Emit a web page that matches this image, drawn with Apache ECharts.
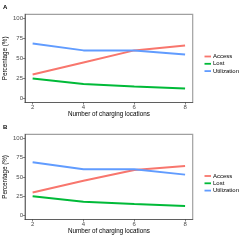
<!DOCTYPE html>
<html><head><meta charset="utf-8">
<script src="https://cdn.jsdelivr.net/npm/echarts@6/dist/echarts.min.js"></script>
<style>html,body{margin:0;padding:0;background:#fff}#c{width:240px;height:240px}</style>
</head><body><div id="c"></div>
<script>
const locations = [2, 4, 6, 8];
const accessA = [30, 45, 60, 66];
const lostA = [25, 18, 15, 12.5];
const utilA = [68.5, 60, 60, 55];
const accessB = [30, 45, 59, 64];
const lostB = [25, 18, 15, 12.5];
const utilB = [69, 60, 60, 53];
const yTicks = [0, 25, 50, 75, 100];
const seriesNames = ['Access', 'Lost', 'Utilization'];
const colors = ['#F8766D', '#00BA38', '#619CFF'];

const chart = echarts.init(document.getElementById('c'), null, {renderer: 'canvas'});
const pair = (ys) => locations.map((x, i) => [x, ys[i]]);
const grids = [
  {left: 25, right: 47.3, top: 14.3, bottom: 137.5, show: true, borderColor: '#a0a0a0', borderWidth: 1.2, containLabel: false, outerBoundsMode: 'none'},
  {left: 25, right: 47.3, top: 134.4, bottom: 20.5, show: true, borderColor: '#a0a0a0', borderWidth: 1.2, containLabel: false, outerBoundsMode: 'none'}
];
const mkX = (gi) => ({
  type: 'value', gridIndex: gi, min: 1.7, max: 8.3,
  name: 'Number of charging locations', nameLocation: 'middle', nameGap: 9, nameMoveOverlap: false,
  nameTextStyle: {fontSize: 6.3, color: '#000', fontFamily: 'Liberation Sans'},
  axisLine: {show: true, onZero: false, lineStyle: {color: '#333', width: 0.6}},
  axisTick: {show: true, length: 2, customValues: locations, lineStyle: {color: '#333', width: 0.6}},
  axisLabel: {customValues: locations, fontSize: 6, color: '#4d4d4d', margin: 2, fontFamily: 'Liberation Sans'},
  splitLine: {show: false}
});
const mkY = (gi) => ({
  type: 'value', gridIndex: gi, min: -5, max: 105,
  name: 'Percentage (%)', nameLocation: 'middle', nameGap: 17, nameMoveOverlap: false,
  nameTextStyle: {fontSize: 6.3, color: '#000', fontFamily: 'Liberation Sans'},
  axisLine: {show: true, onZero: false, lineStyle: {color: '#333', width: 0.6}},
  axisTick: {show: true, length: 2, customValues: yTicks, lineStyle: {color: '#333', width: 0.6}},
  axisLabel: {customValues: yTicks, fontSize: 6, color: '#4d4d4d', margin: 2, fontFamily: 'Liberation Sans'},
  splitLine: {show: false}
});
const data = [[accessA, lostA, utilA], [accessB, lostB, utilB]];
const series = [];
data.forEach((set, gi) => {
  set.forEach((ys, si) => {
    series.push({
      type: 'line', name: seriesNames[si], xAxisIndex: gi, yAxisIndex: gi,
      data: pair(ys), symbol: 'none', lineStyle: {color: colors[si], width: 2},
      itemStyle: {color: colors[si]}, animation: false
    });
  });
});
const mkLegend = (top) => ({
  data: seriesNames, orient: 'vertical', left: 199.5, top: top,
  icon: 'rect', itemWidth: 6.5, itemHeight: 1.8, itemGap: 1.3,
  textStyle: {fontSize: 6, color: '#000', padding: [0, 0, 0, -3], fontFamily: 'Liberation Sans'},
  selectedMode: false
});
chart.setOption({
  animation: false,
  title: [
    {text: 'A', left: 3, top: 4, padding: 0, textStyle: {fontSize: 6, fontWeight: 'bold', color: '#000'}},
    {text: 'B', left: 3, top: 124, padding: 0, textStyle: {fontSize: 6, fontWeight: 'bold', color: '#000'}}
  ],
  grid: grids,
  xAxis: [mkX(0), mkX(1)],
  yAxis: [mkY(0), mkY(1)],
  legend: [mkLegend(48.5), mkLegend(168)],
  series: series
});
</script></body></html>
